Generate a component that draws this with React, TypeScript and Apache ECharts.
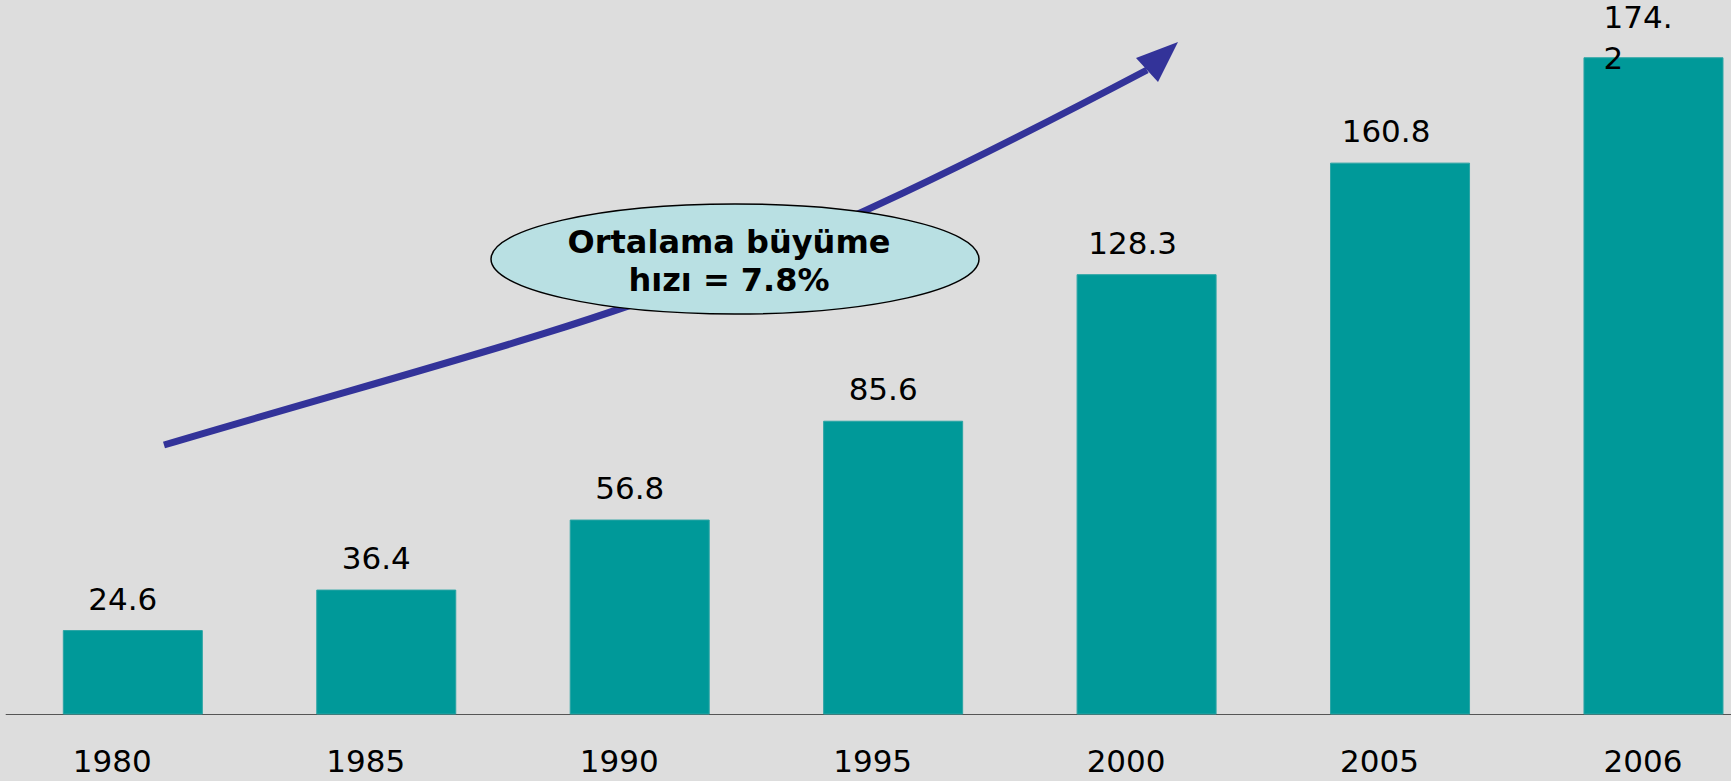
import React, { useEffect, useRef } from "react";
import * as echarts from "echarts";

// Categories (years)
const years = ["1980", "1985", "1990", "1995", "2000", "2005", "2006"];
// Bar heights as drawn in the picture (the 2006 bar is drawn taller than its printed label)
const barValues = [24.6, 36.4, 56.8, 85.6, 128.3, 160.8, 191.5];
// Value labels as printed on the chart
const valueLabels = ["24.6", "36.4", "56.8", "85.6", "128.3", "160.8", "174.2"];
const noteText = "Ortalama büyüme\nhızı = 7.8%";

const FONT = "DejaVu Sans";
const CHART_W = 1790;

export default function App() {
  const ref = useRef<HTMLDivElement>(null);

  useEffect(() => {
    if (!ref.current) return;
    const chart = echarts.init(ref.current, null, { renderer: "svg" });
    const last = years.length - 1;

    const data = barValues.map((v, i) => {
      if (i === last) {
        return {
          value: v,
          label: {
            position: [20, -61],
            align: "left",
            verticalAlign: "top",
            lineHeight: 41,
            width: 72,
            overflow: "breakAll",
            offset: [0, 0],
          },
        };
      }
      return {
        value: v,
        label: { offset: [valueLabels[i].length >= 5 ? -14 : -10, 0] },
      };
    });

    chart.setOption({
      animation: false,
      backgroundColor: "#dddddd",
      grid: { left: 6.1, right: CHART_W - 1780.2, top: 28.1, bottom: 66.5, containLabel: false },
      xAxis: {
        type: "category",
        data: years,
        boundaryGap: true,
        axisLine: { show: true, lineStyle: { color: "#555555", width: 1 } },
        axisTick: { show: false },
        axisLabel: {
          interval: 0,
          margin: 31,
          color: "#000",
          fontSize: 31,
          lineHeight: 31,
          fontFamily: FONT,
          formatter: (v: string, i: number) => (i === last ? `{b|${v}}` : `{a|${v}}`),
          rich: {
            a: { fontSize: 31, fontFamily: FONT, color: "#000", padding: [0, 41, 0, 0] },
            b: { fontSize: 31, fontFamily: FONT, color: "#000", padding: [0, 21, 0, 0] },
          },
        },
        splitLine: { show: false },
      },
      yAxis: {
        type: "value",
        min: 0,
        max: 200,
        show: false,
        splitLine: { show: false },
      },
      series: [
        {
          type: "bar",
          data,
          barWidth: 140,
          itemStyle: { color: "#009999", borderColor: "#2aa5a5", borderWidth: 1 },
          label: {
            show: true,
            position: "top",
            distance: 16,
            color: "#000",
            fontSize: 31,
            lineHeight: 31,
            fontFamily: FONT,
            formatter: (p: any) => valueLabels[p.dataIndex],
          },
        },
      ],
      graphic: [
        {
          type: "bezierCurve",
          z: 10,
          shape: { x1: 164, y1: 445, x2: 1147, y2: 70, cpx1: 614, cpy1: 312, cpx2: 697, cpy2: 307 },
          style: { stroke: "#333399", lineWidth: 7, fill: "none" },
        },
        {
          type: "polygon",
          z: 11,
          shape: { points: [[1178, 42], [1136, 58], [1158, 82]] },
          style: { fill: "#333399" },
        },
        {
          type: "ellipse",
          z: 12,
          shape: { cx: 735, cy: 259, rx: 244, ry: 55 },
          style: { fill: "#b9e0e3", stroke: "#000", lineWidth: 1.5 },
        },
        {
          type: "text",
          z: 13,
          style: {
            text: noteText,
            x: 729,
            y: 261,
            align: "center",
            verticalAlign: "middle",
            fontSize: 32,
            fontWeight: "bold",
            fontFamily: FONT,
            lineHeight: 37.5,
            fill: "#000",
          },
        },
      ],
    });

    return () => chart.dispose();
  }, []);

  return (
    <div
      style={{
        position: "fixed",
        left: 0,
        top: 0,
        width: 1731,
        height: 781,
        overflow: "hidden",
        background: "#dddddd",
      }}
    >
      <div ref={ref} style={{ width: CHART_W, height: 781 }} />
    </div>
  );
}
